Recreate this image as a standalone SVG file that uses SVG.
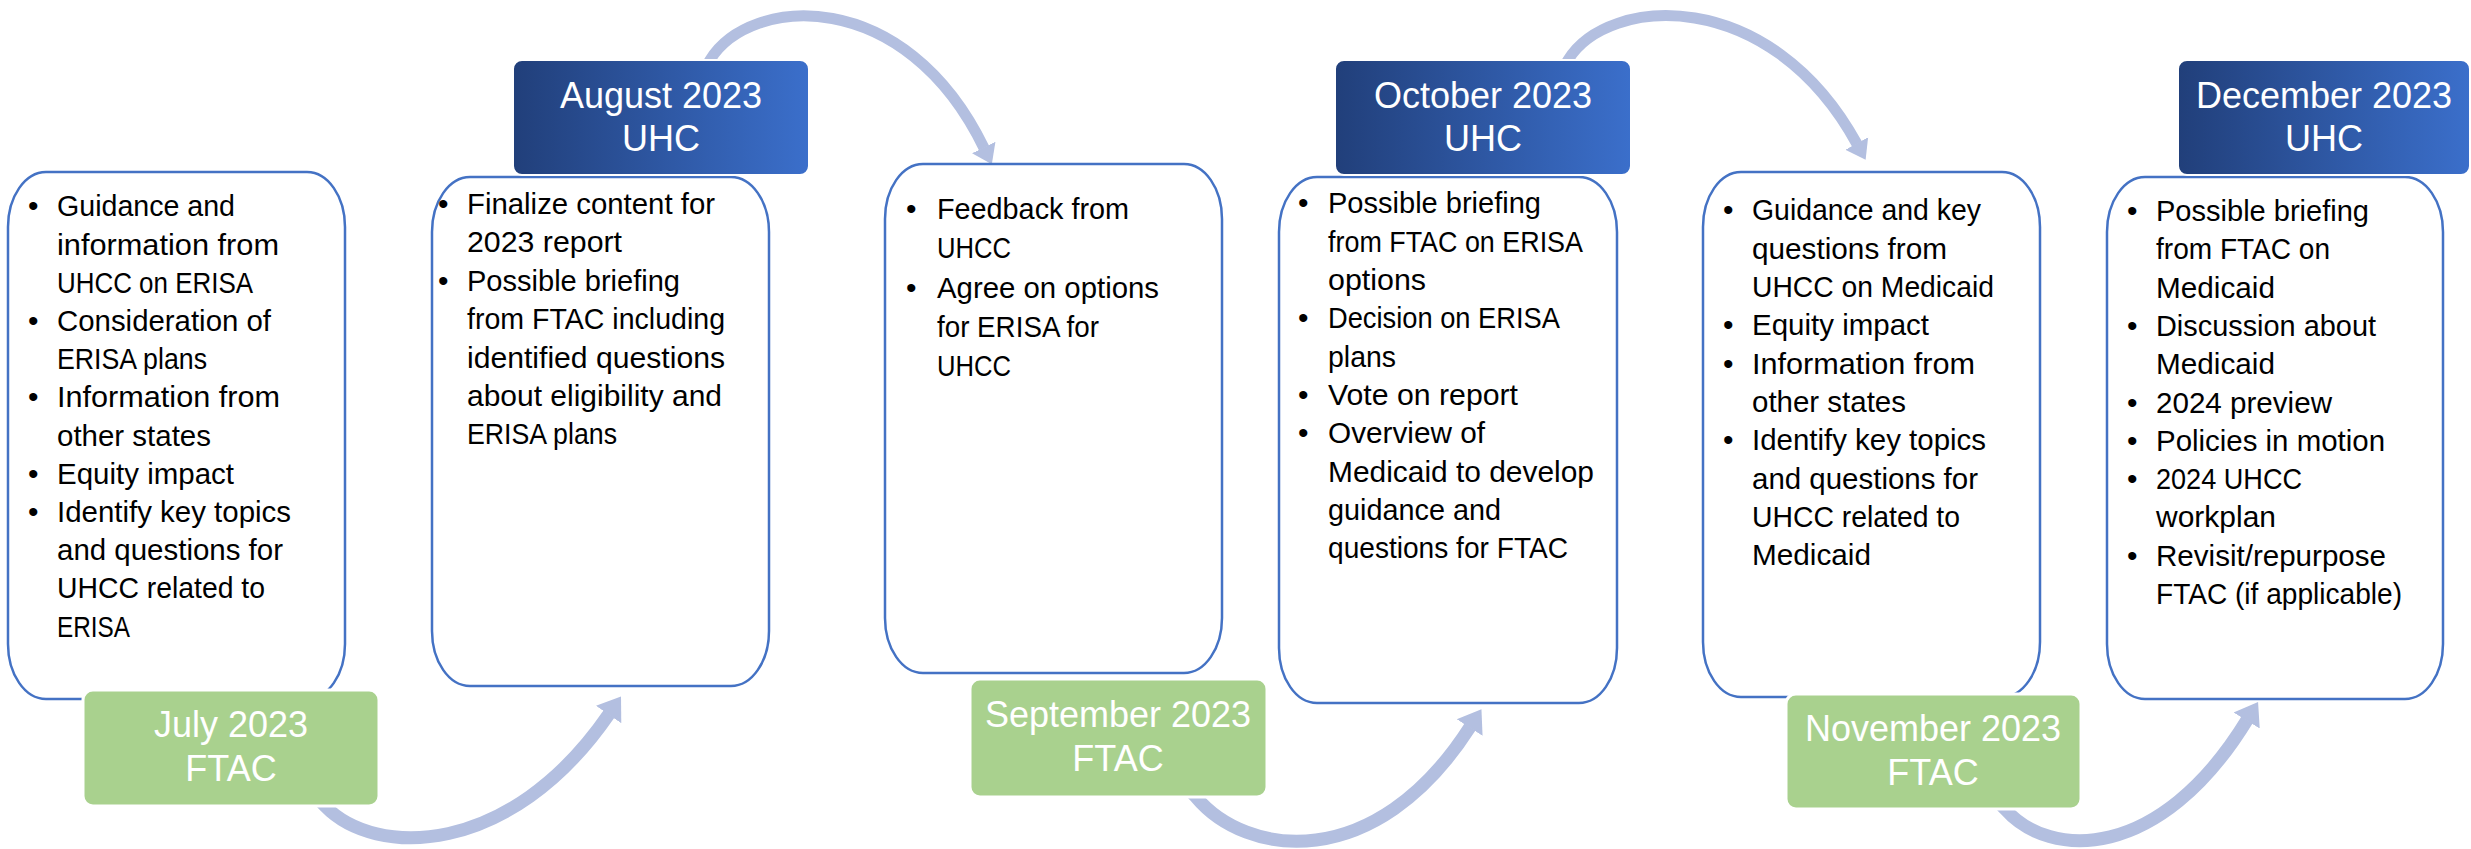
<svg xmlns="http://www.w3.org/2000/svg" width="2471" height="849" viewBox="0 0 2471 849">
  <style>
    .card { fill: #ffffff; stroke: #4472C4; stroke-width: 2.5; }
    .hdr { fill: url(#hdrGrad); stroke: #ffffff; stroke-width: 2; }
    .tag { fill: #A9D18E; stroke: #ffffff; stroke-width: 3; }
    .body { font-family: "Liberation Sans", Arial, sans-serif; font-size: 30px; fill: #000000; }
    .title { font-family: "Liberation Sans", Arial, sans-serif; font-size: 36px; fill: #ffffff; text-anchor: middle; }
    .flow { fill: none; stroke: #B3BFE0; stroke-linecap: butt; stroke-linejoin: round; marker-end: url(#tip); }
    .flow.big { stroke-width: 13; }
    .flow.small { stroke-width: 11; }
  </style>
  <defs>
    <linearGradient id="hdrGrad" x1="0" y1="0" x2="1" y2="0">
      <stop offset="0" stop-color="#213F7A"/>
      <stop offset="1" stop-color="#3B6FCB"/>
    </linearGradient>
    <marker id="tip" markerUnits="strokeWidth" orient="auto" viewBox="0 -1.3 1.8 2.6" refX="0.05" refY="0" markerWidth="1.8" markerHeight="2.6">
      <path d="M0,-1.18 L1.68,0 L0,1.18 Z" fill="#B3BFE0"/>
    </marker>
  </defs>

  <rect width="2471" height="849" fill="#ffffff"/>

  <!-- curved arrows linking the months -->
  <g id="connectors">
    <path class="flow small" d="M701,75 L710,60 C750,-5 905,-15 984,148"/>
    <path class="flow small" d="M1559,75 L1568,60 C1608,-5 1770,-15 1857,144"/>
    <path class="flow big" d="M300,780 L325,806 C375,858 510,858 609,714"/>
    <path class="flow big" d="M1171,771 L1196,797 C1246,857 1375,875 1470,727"/>
    <path class="flow big" d="M1980,783 L2005,809 C2050,860 2160,862 2247,720"/>
  </g>

  <!-- July content -->
  <g id="card-july">
    <rect class="card" x="8" y="172" width="337" height="527" rx="38" ry="55"/>
    <text class="body">
      <tspan x="28" y="216.4">•</tspan>
      <tspan x="28" y="331">•</tspan>
      <tspan x="28" y="407.4">•</tspan>
      <tspan x="28" y="483.8">•</tspan>
      <tspan x="28" y="522">•</tspan>
    </text>
    <text class="body" x="57" y="216.4" textLength="178" lengthAdjust="spacingAndGlyphs">Guidance and</text>
    <text class="body" x="57" y="254.6" textLength="222" lengthAdjust="spacingAndGlyphs">information from</text>
    <text class="body" x="57" y="292.8" textLength="196" lengthAdjust="spacingAndGlyphs">UHCC on ERISA</text>
    <text class="body" x="57" y="331" textLength="214" lengthAdjust="spacingAndGlyphs">Consideration of</text>
    <text class="body" x="57" y="369.2" textLength="150" lengthAdjust="spacingAndGlyphs">ERISA plans</text>
    <text class="body" x="57" y="407.4" textLength="223" lengthAdjust="spacingAndGlyphs">Information from</text>
    <text class="body" x="57" y="445.6" textLength="154" lengthAdjust="spacingAndGlyphs">other states</text>
    <text class="body" x="57" y="483.8" textLength="177" lengthAdjust="spacingAndGlyphs">Equity impact</text>
    <text class="body" x="57" y="522" textLength="234" lengthAdjust="spacingAndGlyphs">Identify key topics</text>
    <text class="body" x="57" y="560.2" textLength="226" lengthAdjust="spacingAndGlyphs">and questions for</text>
    <text class="body" x="57" y="598.4" textLength="208" lengthAdjust="spacingAndGlyphs">UHCC related to</text>
    <text class="body" x="57" y="636.6" textLength="73" lengthAdjust="spacingAndGlyphs">ERISA</text>
  </g>

  <!-- August content -->
  <g id="card-august">
    <rect class="card" x="432" y="177" width="337" height="509" rx="38" ry="55"/>
    <text class="body">
      <tspan x="438" y="214">•</tspan>
      <tspan x="438" y="290.8">•</tspan>
    </text>
    <text class="body" x="467" y="214" textLength="248" lengthAdjust="spacingAndGlyphs">Finalize content for</text>
    <text class="body" x="467" y="252.4" textLength="155" lengthAdjust="spacingAndGlyphs">2023 report</text>
    <text class="body" x="467" y="290.8" textLength="213" lengthAdjust="spacingAndGlyphs">Possible briefing</text>
    <text class="body" x="467" y="329.2" textLength="258" lengthAdjust="spacingAndGlyphs">from FTAC including</text>
    <text class="body" x="467" y="367.6" textLength="258" lengthAdjust="spacingAndGlyphs">identified questions</text>
    <text class="body" x="467" y="406" textLength="255" lengthAdjust="spacingAndGlyphs">about eligibility and</text>
    <text class="body" x="467" y="444.4" textLength="150" lengthAdjust="spacingAndGlyphs">ERISA plans</text>
  </g>

  <!-- September content -->
  <g id="card-september">
    <rect class="card" x="885" y="164" width="337" height="509" rx="38" ry="55"/>
    <text class="body">
      <tspan x="906" y="219.3">•</tspan>
      <tspan x="906" y="297.5">•</tspan>
    </text>
    <text class="body" x="937" y="219.3" textLength="192" lengthAdjust="spacingAndGlyphs">Feedback from</text>
    <text class="body" x="937" y="258.4" textLength="74" lengthAdjust="spacingAndGlyphs">UHCC</text>
    <text class="body" x="937" y="297.5" textLength="222" lengthAdjust="spacingAndGlyphs">Agree on options</text>
    <text class="body" x="937" y="336.6" textLength="162" lengthAdjust="spacingAndGlyphs">for ERISA for</text>
    <text class="body" x="937" y="375.7" textLength="74" lengthAdjust="spacingAndGlyphs">UHCC</text>
  </g>

  <!-- October content -->
  <g id="card-october">
    <rect class="card" x="1279" y="177" width="338" height="526" rx="38" ry="55"/>
    <text class="body">
      <tspan x="1298" y="213.4">•</tspan>
      <tspan x="1298" y="328.3">•</tspan>
      <tspan x="1298" y="404.9">•</tspan>
      <tspan x="1298" y="443.2">•</tspan>
    </text>
    <text class="body" x="1328" y="213.4" textLength="213" lengthAdjust="spacingAndGlyphs">Possible briefing</text>
    <text class="body" x="1328" y="251.7" textLength="255" lengthAdjust="spacingAndGlyphs">from FTAC on ERISA</text>
    <text class="body" x="1328" y="290" textLength="98" lengthAdjust="spacingAndGlyphs">options</text>
    <text class="body" x="1328" y="328.3" textLength="232" lengthAdjust="spacingAndGlyphs">Decision on ERISA</text>
    <text class="body" x="1328" y="366.6" textLength="68" lengthAdjust="spacingAndGlyphs">plans</text>
    <text class="body" x="1328" y="404.9" textLength="190" lengthAdjust="spacingAndGlyphs">Vote on report</text>
    <text class="body" x="1328" y="443.2" textLength="157" lengthAdjust="spacingAndGlyphs">Overview of</text>
    <text class="body" x="1328" y="481.5" textLength="266" lengthAdjust="spacingAndGlyphs">Medicaid to develop</text>
    <text class="body" x="1328" y="519.8" textLength="173" lengthAdjust="spacingAndGlyphs">guidance and</text>
    <text class="body" x="1328" y="558.1" textLength="240" lengthAdjust="spacingAndGlyphs">questions for FTAC</text>
  </g>

  <!-- November content -->
  <g id="card-november">
    <rect class="card" x="1703" y="172" width="337" height="525" rx="38" ry="55"/>
    <text class="body">
      <tspan x="1723" y="220.4">•</tspan>
      <tspan x="1723" y="335.3">•</tspan>
      <tspan x="1723" y="373.6">•</tspan>
      <tspan x="1723" y="450.2">•</tspan>
    </text>
    <text class="body" x="1752" y="220.4" textLength="229" lengthAdjust="spacingAndGlyphs">Guidance and key</text>
    <text class="body" x="1752" y="258.7" textLength="195" lengthAdjust="spacingAndGlyphs">questions from</text>
    <text class="body" x="1752" y="297" textLength="242" lengthAdjust="spacingAndGlyphs">UHCC on Medicaid</text>
    <text class="body" x="1752" y="335.3" textLength="177" lengthAdjust="spacingAndGlyphs">Equity impact</text>
    <text class="body" x="1752" y="373.6" textLength="223" lengthAdjust="spacingAndGlyphs">Information from</text>
    <text class="body" x="1752" y="411.9" textLength="154" lengthAdjust="spacingAndGlyphs">other states</text>
    <text class="body" x="1752" y="450.2" textLength="234" lengthAdjust="spacingAndGlyphs">Identify key topics</text>
    <text class="body" x="1752" y="488.5" textLength="226" lengthAdjust="spacingAndGlyphs">and questions for</text>
    <text class="body" x="1752" y="526.8" textLength="208" lengthAdjust="spacingAndGlyphs">UHCC related to</text>
    <text class="body" x="1752" y="565.1" textLength="119" lengthAdjust="spacingAndGlyphs">Medicaid</text>
  </g>

  <!-- December content -->
  <g id="card-december">
    <rect class="card" x="2107" y="177" width="336" height="522" rx="38" ry="55"/>
    <text class="body">
      <tspan x="2127" y="221">•</tspan>
      <tspan x="2127" y="335.9">•</tspan>
      <tspan x="2127" y="412.5">•</tspan>
      <tspan x="2127" y="450.8">•</tspan>
      <tspan x="2127" y="489.1">•</tspan>
      <tspan x="2127" y="565.7">•</tspan>
    </text>
    <text class="body" x="2156" y="221" textLength="213" lengthAdjust="spacingAndGlyphs">Possible briefing</text>
    <text class="body" x="2156" y="259.3" textLength="174" lengthAdjust="spacingAndGlyphs">from FTAC on</text>
    <text class="body" x="2156" y="297.6" textLength="119" lengthAdjust="spacingAndGlyphs">Medicaid</text>
    <text class="body" x="2156" y="335.9" textLength="220" lengthAdjust="spacingAndGlyphs">Discussion about</text>
    <text class="body" x="2156" y="374.2" textLength="119" lengthAdjust="spacingAndGlyphs">Medicaid</text>
    <text class="body" x="2156" y="412.5" textLength="176" lengthAdjust="spacingAndGlyphs">2024 preview</text>
    <text class="body" x="2156" y="450.8" textLength="229" lengthAdjust="spacingAndGlyphs">Policies in motion</text>
    <text class="body" x="2156" y="489.1" textLength="146" lengthAdjust="spacingAndGlyphs">2024 UHCC</text>
    <text class="body" x="2156" y="527.4" textLength="120" lengthAdjust="spacingAndGlyphs">workplan</text>
    <text class="body" x="2156" y="565.7" textLength="230" lengthAdjust="spacingAndGlyphs">Revisit/repurpose</text>
    <text class="body" x="2156" y="604" textLength="246" lengthAdjust="spacingAndGlyphs">FTAC (if applicable)</text>
  </g>

  <!-- UHC month headers -->
  <g id="hdr-august">
    <rect class="hdr" x="513" y="60" width="296" height="115" rx="9"/>
    <text class="title"><tspan x="661" y="108">August 2023</tspan><tspan x="661" y="151">UHC</tspan></text>
  </g>
  <g id="hdr-october">
    <rect class="hdr" x="1335" y="60" width="296" height="115" rx="9"/>
    <text class="title"><tspan x="1483" y="108">October 2023</tspan><tspan x="1483" y="151">UHC</tspan></text>
  </g>
  <g id="hdr-december">
    <rect class="hdr" x="2178" y="60" width="292" height="115" rx="9"/>
    <text class="title"><tspan x="2324" y="108">December 2023</tspan><tspan x="2324" y="151">UHC</tspan></text>
  </g>

  <!-- FTAC month tags -->
  <g id="tag-july">
    <rect class="tag" x="83" y="690" width="296" height="116" rx="10"/>
    <text class="title"><tspan x="231" y="737">July 2023</tspan><tspan x="231" y="781">FTAC</tspan></text>
  </g>
  <g id="tag-september">
    <rect class="tag" x="970" y="679" width="297" height="118" rx="10"/>
    <text class="title"><tspan x="1118" y="727">September 2023</tspan><tspan x="1118" y="771">FTAC</tspan></text>
  </g>
  <g id="tag-november">
    <rect class="tag" x="1786" y="694" width="295" height="115" rx="10"/>
    <text class="title"><tspan x="1933" y="741">November 2023</tspan><tspan x="1933" y="785">FTAC</tspan></text>
  </g>
</svg>
